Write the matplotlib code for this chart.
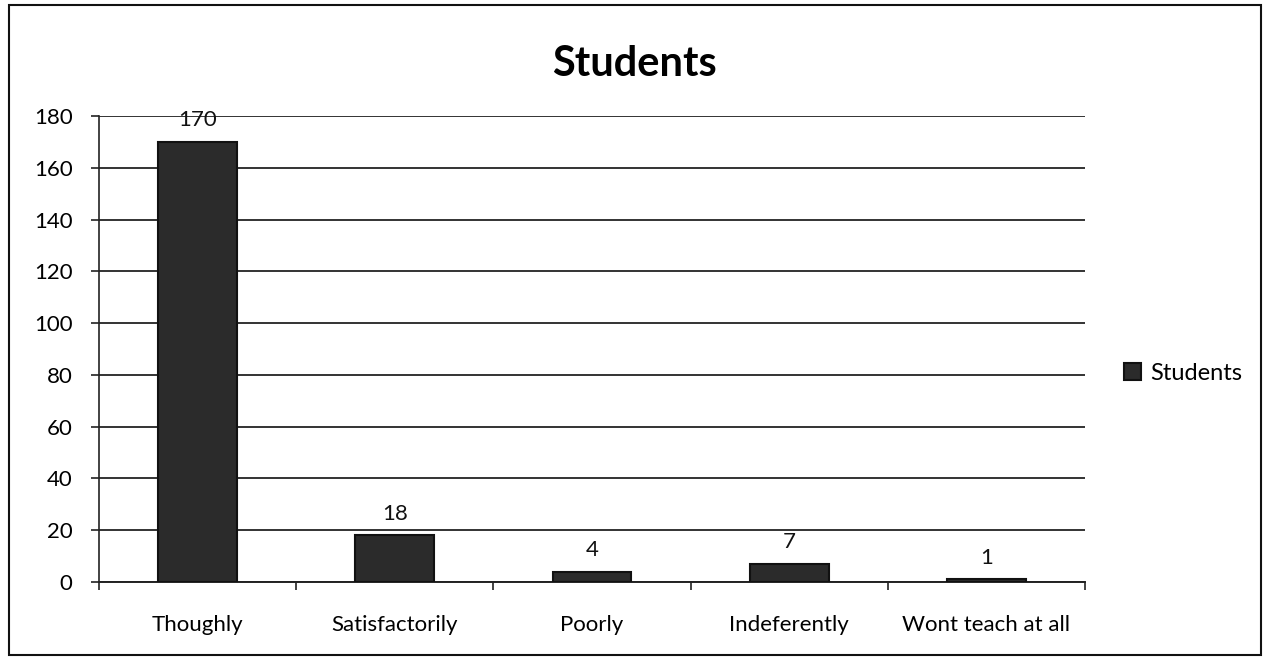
import matplotlib
matplotlib.use("Agg")
import matplotlib.pyplot as plt
from matplotlib.patches import Rectangle
import numpy as np

categories = ["Thoughly", "Satisfactorily", "Poorly", "Indeferently", "Wont teach at all"]
students = [170, 18, 4, 7, 1]
yticks = [0, 20, 40, 60, 80, 100, 120, 140, 160, 180]

plt.rcParams['font.family'] = ['Lato', 'DejaVu Sans']

fig = plt.figure(figsize=(12.69, 6.64), dpi=100)
ax = fig.add_axes([0.078, 0.1235, 0.777, 0.7015])

x = np.arange(len(categories))
bars = ax.bar(x, students, width=0.4, color="#2b2b2b", edgecolor="#111111",
              linewidth=1.5, label="Students", zorder=3)
for xi, v in zip(x, students):
    ax.text(xi, v + 4.5, str(v), ha="center", va="bottom", fontsize=16, color="#111111")

ax.set_xlim(-0.5, len(categories) - 0.5)
ax.set_ylim(0, 180)
ax.set_yticks(yticks)
ax.set_yticklabels([str(t) for t in yticks], fontsize=16)
ax.set_xticks(x)
ax.set_xticklabels(categories, fontsize=16)
ax.tick_params(axis="x", length=0, pad=24)
ax.set_xticks(np.arange(-0.5, len(categories)), minor=True)
ax.tick_params(axis="x", which="minor", length=6, width=1.2, color="#222222")
ax.tick_params(axis="y", length=6, width=1.2, color="#222222", pad=13)
ax.grid(axis="y", color="#333333", linewidth=1.4, zorder=0)
for s in ["top", "right"]:
    ax.spines[s].set_visible(False)
ax.spines["left"].set_color("#222222")
ax.spines["bottom"].set_color("#222222")
ax.spines["left"].set_linewidth(1.2)
ax.spines["bottom"].set_linewidth(1.4)

fig.text(0.5, 0.904, "Students", ha="center", va="center", fontsize=30, fontweight="bold")

leg = fig.legend(handles=[bars], labels=["Students"], loc="center left",
                 bbox_to_anchor=(0.869, 0.438), frameon=False, fontsize=17,
                 handlelength=0.7, handleheight=0.7, handletextpad=0.4)

fig.patches.append(Rectangle((0.007, 0.013), 0.987, 0.98, transform=fig.transFigure,
                             fill=False, edgecolor="#111111", linewidth=1.5))

fig.savefig("out.png", dpi=100)
